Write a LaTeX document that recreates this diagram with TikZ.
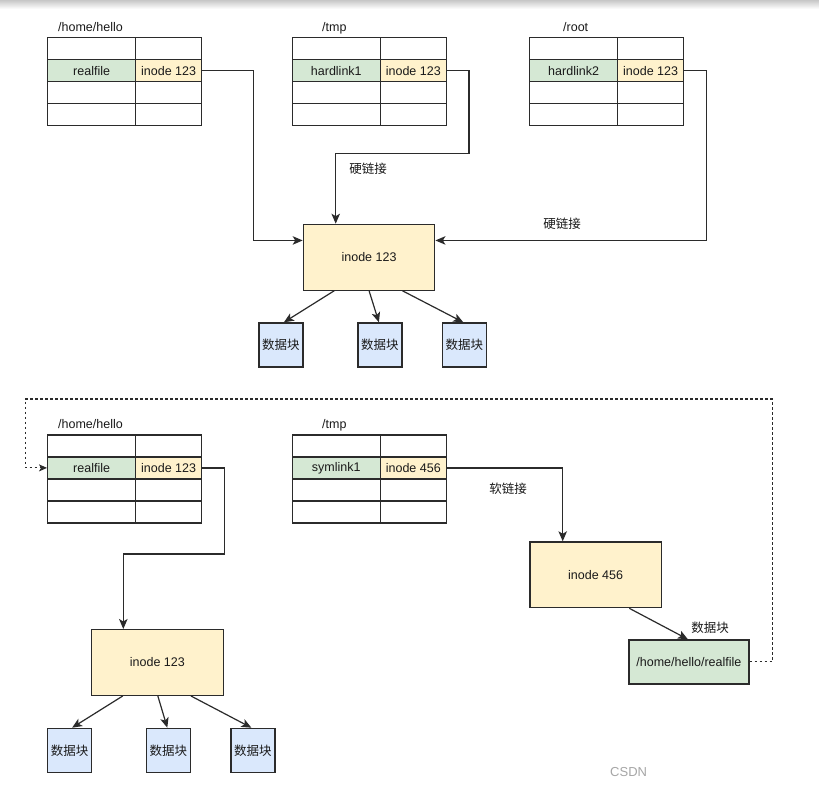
\documentclass[tikz,border=0pt]{standalone}
\usepackage{fontspec}
\setmainfont{Liberation Sans}
\newfontfamily\cjk{Noto Sans CJK SC}
\usetikzlibrary{arrows.meta,calc}
\definecolor{gfill}{HTML}{D5E8D4}
\definecolor{yfill}{HTML}{FFF2CC}
\definecolor{bfill}{HTML}{DAE8FC}
\definecolor{lcol}{HTML}{2B2B2B}
\definecolor{tcol}{HTML}{1A1A1A}
\tikzset{
  basefont/.style={font=\fontsize{12.5}{14}\selectfont, text=tcol},
  cellL/.style={draw=lcol, line width=1.2pt, anchor=north west, minimum width=88pt, minimum height=22pt, inner sep=0pt, basefont},
  cellR/.style={draw=lcol, line width=1.2pt, anchor=north west, minimum width=66pt, minimum height=22pt, inner sep=0pt, basefont},
  titletext/.style={anchor=base west, inner sep=0pt, basefont},
  inodebox/.style={draw=lcol, line width=1.2pt, fill=yfill, minimum width=131.5pt, minimum height=65.8pt, inner sep=0pt, basefont},
  blockbox/.style={draw=lcol, line width=1.2pt, fill=bfill, minimum width=44pt, minimum height=44pt, inner sep=0pt, basefont},
  pathbox/.style={draw=lcol, line width=1.2pt, fill=gfill, minimum width=120pt, minimum height=44pt, inner sep=0pt, basefont},
  conn/.style={draw=lcol, line width=1.2pt, -{Stealth[length=10pt,width=8.5pt,inset=2.5pt]}},
  dconn/.style={draw=lcol, line width=1.1pt, dash pattern=on 2.5pt off 2.5pt, -{Stealth[length=8pt,width=7pt,inset=2pt]}},
  lbl/.style={inner sep=0pt, basefont},
}
\newcommand{\dirtable}[7]{% prefix, x, y, title-x, title, name, inode
  \node[titletext] (#1t) at (#4,#3-5.5) {#5};
  \node[cellL] (#1a) at (#2,#3) {};
  \node[cellR] (#1b) at (#2+88,#3) {};
  \node[cellL, fill=gfill] (#1n) at (#2,#3+22) {#6};
  \node[cellR, fill=yfill] (#1i) at (#2+88,#3+22) {#7};
  \node[cellL] (#1c) at (#2,#3+44) {};
  \node[cellR] (#1d) at (#2+88,#3+44) {};
  \node[cellL] (#1e) at (#2,#3+66) {};
  \node[cellR] (#1f) at (#2+88,#3+66) {};
}
\begin{document}
\begin{tikzpicture}[x=1pt,y=-1pt]
\useasboundingbox (0,0) rectangle (819,789);
\fill[white] (0,0) rectangle (819,789);
\shade[top color=black!22, bottom color=white] (0,0) rectangle (819,9);

% ---------- top: hard links ----------
\dirtable{ha}{47}{37}{58}{/home/hello}{realfile}{inode 123}
\dirtable{hb}{291.7}{37}{322}{/tmp}{hardlink1}{inode 123}
\dirtable{hc}{529}{37}{563}{/root}{hardlink2}{inode 123}

\node[inodebox, anchor=north west] (in1) at (302.7,223.7) {inode 123};
\node[blockbox, anchor=north west] (b1) at (258.3,322.3) {\cjk 数据块};
\node[blockbox, anchor=north west] (b2) at (357.3,322.3) {\cjk 数据块};
\node[blockbox, anchor=north west] (b3) at (441.7,322.3) {\cjk 数据块};

\coordinate (in1L) at ($(in1.north west)!0.25!(in1.south west)$);
\coordinate (in1R) at ($(in1.north east)!0.25!(in1.south east)$);

\draw[conn] (hai.east) -- ++(51,0) |- (in1L);
\draw[conn] (hbi.east) -| ++(22,83) -| ([xshift=33pt]in1.north west);
\draw[conn] (hci.east) -- ++(22,0) |- (in1R);

\node[lbl, font=\cjk\fontsize{12.5}{14}\selectfont] (l1) at (368,169) {硬链接};
\node[lbl, font=\cjk\fontsize{12.5}{14}\selectfont] (l2) at (562,224) {硬链接};

\draw[conn] ([xshift=31.6pt]in1.south west) -- ([xshift=3pt]b1.north);
\draw[conn] (in1.south) -- ([xshift=-1pt]b2.north);
\draw[conn] ([xshift=99.6pt]in1.south west) -- ([xshift=-1pt]b3.north);

% ---------- bottom: soft link ----------
\dirtable{hd}{47}{434.3}{58}{/home/hello}{realfile}{inode 123}
\dirtable{he}{291.7}{434.3}{322}{/tmp}{symlink1}{inode 456}

\node[inodebox, anchor=north west] (in2) at (91,629) {inode 123};
\node[blockbox, anchor=north west] (c1) at (47,727.7) {\cjk 数据块};
\node[blockbox, anchor=north west] (c2) at (145.7,727.7) {\cjk 数据块};
\node[blockbox, anchor=north west] (c3) at (230.3,727.7) {\cjk 数据块};

\draw[conn] (hdi.east) -| ++(22,86) -| ([xshift=32.3pt]in2.north west);
\draw[conn] ([xshift=31.7pt]in2.south west) -- ([xshift=2.5pt]c1.north);
\draw[conn] ([xshift=0.5pt]in2.south) -- ([xshift=-1pt]c2.north);
\draw[conn] ([xshift=100pt]in2.south west) -- ([xshift=-1.5pt]c3.north);

\node[inodebox, anchor=north west] (in3) at (529.3,541.3) {inode 456};
\node[pathbox, anchor=north west] (rp) at (628.3,639.3) {/home/hello/realfile};

\draw[conn] (hei.east) -| ([xshift=33.4pt]in3.north west);
\node[lbl, font=\cjk\fontsize{12.5}{14}\selectfont] (l3) at (508,489) {软链接};
\draw[conn] ([xshift=100pt]in3.south west) -- ([xshift=-1pt]rp.north);
\node[lbl, font=\cjk\fontsize{12.5}{14}\selectfont] (l4) at (710,627.3) {数据块};

\coordinate (dl) at (25.7,399);
\draw[dconn] (rp.east) -- ++(22.7,0) |- (dl) |- (hdn.west);

\node[lbl, text=black!35, font=\fontsize{13}{15}\selectfont, anchor=base west] (wm) at (610,776) {CSDN};
\end{tikzpicture}
\end{document}
